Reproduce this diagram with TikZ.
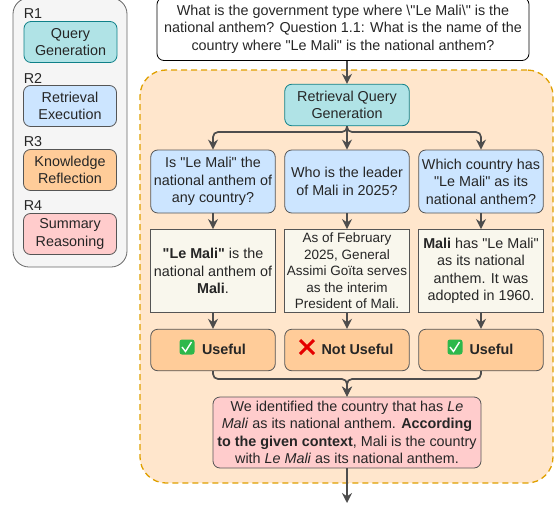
\documentclass[tikz,border=0pt]{standalone}
\usepackage{fontspec}
\setmainfont[Ligatures=TeXOff]{Liberation Sans}
\usetikzlibrary{arrows.meta}
\definecolor{panelgray}{HTML}{F5F5F5}
\definecolor{tealfill}{HTML}{B0E3E6}
\definecolor{tealline}{HTML}{0E8088}
\definecolor{bluefill}{HTML}{CCE5FF}
\definecolor{orangefill}{HTML}{FFCC99}
\definecolor{redfill}{HTML}{FFCCCC}
\definecolor{creamfill}{HTML}{F9F7ED}
\definecolor{areafill}{HTML}{FFE6CC}
\definecolor{arealine}{HTML}{E0A000}
\definecolor{edgegray}{HTML}{4D4D4D}
\definecolor{boxline}{HTML}{555555}
\definecolor{checkgreen}{HTML}{2DB84B}
\tikzset{
    txt/.style = {font=\fontsize{14.35}{17.5}\selectfont, align=center, inner sep=0pt, text=black!85},
    box/.style = {txt, draw=boxline, line width=0.8pt, rounded corners=7pt},
    querybox/.style = {box, fill=tealfill, draw=tealline},
    retrbox/.style = {box, fill=bluefill},
    reflbox/.style = {box, fill=orangefill},
    sumbox/.style = {box, fill=redfill},
    ansbox/.style = {txt, draw=boxline, line width=0.8pt, fill=creamfill, minimum width=124.5pt, minimum height=83pt},
    legendbox/.style = {minimum width=93pt, minimum height=41pt},
    colbox/.style = {minimum width=124.5pt},
    tag/.style = {txt},
    flow/.style = {draw=edgegray, line width=1.7pt, rounded corners=5pt, -{Stealth[length=10pt,width=10pt]}},
}
\begin{document}
\begin{tikzpicture}[x=1pt,y=-1pt]
    \useasboundingbox (0,0) rectangle (556,506);
    % legend
    \node[draw=black!60, line width=0.8pt, fill=panelgray, rounded corners=16pt, minimum width=114pt, minimum height=269pt] (legend) at (70,132.5) {};
    \node[tag] (r1) at (33,14) {R1};
    \node[querybox, legendbox] (lgen) at (70.5,42) {Query\\Generation};
    \node[tag] (r2) at (33,78) {R2};
    \node[retrbox, legendbox] (lret) at (70,106) {Retrieval\\Execution};
    \node[tag] (r3) at (33,142) {R3};
    \node[reflbox, legendbox] (lref) at (70,170) {Knowledge\\Reflection};
    \node[tag] (r4) at (33,206) {R4};
    \node[sumbox, legendbox] (lsum) at (70,234) {Summary\\Reasoning};
    % dashed area
    \node[draw=arealine, line width=1.3pt, dash pattern=on 6pt off 4pt, fill=areafill, rounded corners=26pt, minimum width=413pt, minimum height=413pt] (area) at (346.5,276.5) {};
    % question
    \node[box, fill=white, draw=black, minimum width=372pt, minimum height=63pt] (ques) at (343,29)
        {What is the government type where \textbackslash"Le Mali\textbackslash" is the\\national anthem? Question 1.1: What is the name of the\\country where "Le Mali" is the national anthem?};
    \node[querybox, colbox, minimum height=41.5pt] (rq) at (347,105) {Retrieval Query\\Generation};
    % first row
    \node[retrbox, colbox, minimum height=63pt] (q1) at (213,181.5) {Is "Le Mali" the\\national anthem of\\any country?};
    \node[retrbox, colbox, minimum height=63pt] (q2) at (347,181.5) {Who is the leader\\of Mali in 2025?};
    \node[retrbox, colbox, minimum height=63pt] (q3) at (481,181.5) {Which country has\\"Le Mali" as its\\national anthem?};
    % second row
    \node[ansbox] (a1) at (213,271) {\textbf{"Le Mali"} is the\\national anthem of\\\textbf{Mali}.};
    \node[ansbox, font=\fontsize{13.5}{16.5}\selectfont] (a2) at (347,271) {As of February\\2025, General\\Assimi Goïta serves\\as the interim\\President of Mali.};
    \node[ansbox] (a3) at (481,271) {\textbf{Mali} has "Le Mali"\\as its national\\anthem. It was\\adopted in 1960.};
    % third row
    \node[reflbox, colbox, minimum height=41.5pt] (u1) at (213,350) {};
    \node[reflbox, colbox, minimum height=41.5pt] (u2) at (347,350) {};
    \node[reflbox, colbox, minimum height=41.5pt] (u3) at (481,350) {};
    \node[txt] (t1) at (224,349) {\textbf{Useful}};
    \node[txt] (t2) at (357.5,349) {\textbf{Not Useful}};
    \node[txt] (t3) at (491.5,349) {\textbf{Useful}};
    % icons
    \node[fill=checkgreen, rounded corners=2.5pt, minimum size=15pt, inner sep=0pt] (c1) at (187,347) {};
    \draw[white, line width=1.4pt] (182,347) -- (185.5,351.5) -- (191.5,342);
    \node[fill=checkgreen, rounded corners=2.5pt, minimum size=15pt, inner sep=0pt] (c3) at (455,347) {};
    \draw[white, line width=1.4pt] (450,347) -- (453.5,351.5) -- (459.5,342);
    \draw[red!90!black, line width=3pt] (300,340) -- (314,354);
    \draw[red!90!black, line width=3pt] (314,340) -- (300,354);
    % summary
    \node[sumbox, minimum width=268pt, minimum height=71pt] (sum) at (347,432.5)
        {We identified the country that has \textit{Le}\\\textit{Mali} as its national anthem. \textbf{According}\\\textbf{to the given context}, Mali is the country\\with \textit{Le Mali} as its national anthem.};
    % connectors
    \coordinate (split) at (347,132);
    \coordinate (merge) at (347,379);
    \coordinate (out) at (347,503);
    \draw[flow] (ques.south -| rq) -- (rq.north);
    \draw[flow] (rq.south) -- (split) -| (q1.north);
    \draw[flow] (rq.south) -- (q2.north);
    \draw[flow] (rq.south) -- (split) -| (q3.north);
    \draw[flow] (q1) -- (a1);
    \draw[flow] (q2) -- (a2);
    \draw[flow] (q3) -- (a3);
    \draw[flow] (a1) -- (u1);
    \draw[flow] (a2) -- (u2);
    \draw[flow] (a3) -- (u3);
    \draw[flow] (u1.south) |- (merge) -- (sum.north);
    \draw[flow] (u3.south) |- (merge) -- (sum.north);
    \draw[flow] (sum) -- (out);
\end{tikzpicture}
\end{document}
